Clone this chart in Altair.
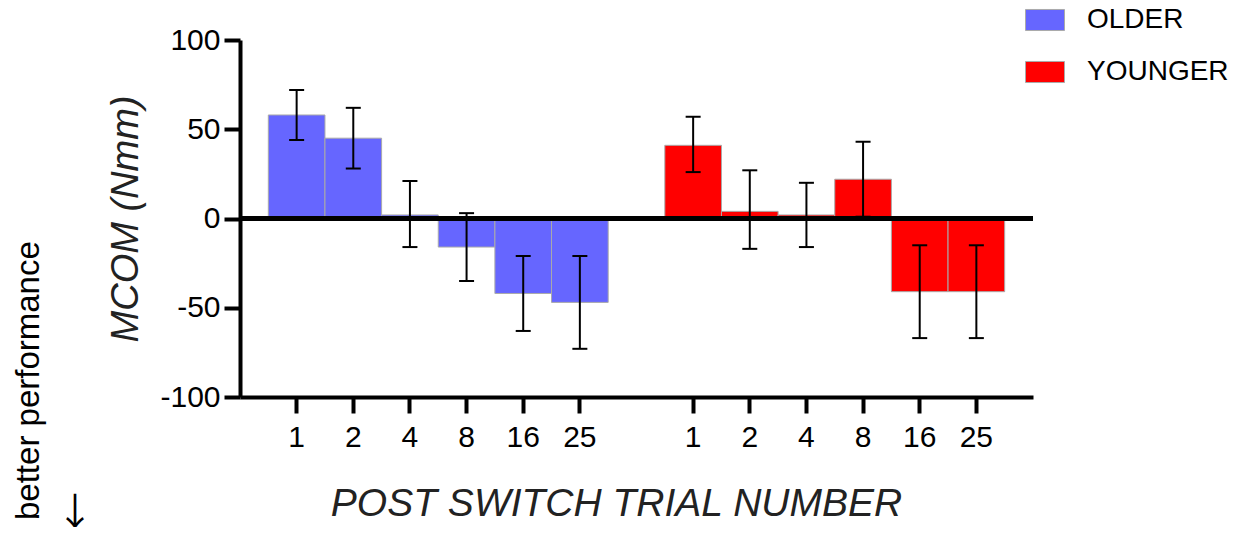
import altair as alt
import pandas as pd

# ---- data ----
trials = [1, 2, 4, 8, 16, 25]
groups = ["OLDER", "YOUNGER"]
older_mean = [58, 45, 2, -16, -42, -47]
older_lo = [44, 28, -16, -35, -63, -73]
older_hi = [72, 62, 21, 3, -21, -21]
younger_mean = [41, 4, 2, 22, -41, -41]
younger_lo = [26, -17, -16, 1, -67, -67]
younger_hi = [57, 27, 20, 43, -15, -15]
colors = ["#6666ff", "#ff0000"]
y_ticks = [-100, -50, 0, 50, 100]
note_text = ["better performance"]
arrow_text = ["\u2193"]

rows = []
for g, means, los, his in [
    (groups[0], older_mean, older_lo, older_hi),
    (groups[1], younger_mean, younger_lo, younger_hi),
]:
    for t, m, lo, hi in zip(trials, means, los, his):
        rows.append(dict(group=g, key=g[0] + str(t), trial=str(t), mean=m, lo=lo, hi=hi))
df = pd.DataFrame(rows)

keys = ["O" + str(t) for t in trials] + ["gap"] + ["Y" + str(t) for t in trials]
tick_keys = [k for k in keys if k != "gap"]

FONT = "Liberation Sans"

x_enc = alt.X(
    "key:N",
    scale=alt.Scale(domain=keys, paddingInner=0, paddingOuter=0.5),
    axis=alt.Axis(
        values=tick_keys,
        labelExpr="substring(datum.label, 1)",
        labelAngle=0,
        labelFontSize=30,
        labelFont=FONT,
        labelColor="black",
        labelPadding=9,
        tickSize=16,
        tickWidth=4,
        tickColor="black",
        domainWidth=4,
        domainColor="black",
        grid=False,
        title="POST SWITCH TRIAL NUMBER",
        titleFont=FONT,
        titleFontSize=39,
        titleFontStyle="italic",
        titleFontWeight="normal",
        titleColor="#222222",
        titleX=376,
        titleY=118,
        titleBaseline="alphabetic",
    ),
)

y_scale = alt.Scale(domain=[-100, 100], nice=False)
y_axis = alt.Axis(
    values=y_ticks,
    labelExpr="'' + datum.value",
    labelFontSize=30,
    labelFont=FONT,
    labelColor="black",
    labelPadding=4,
    tickSize=16,
    tickWidth=4,
    tickColor="black",
    domainWidth=4,
    domainColor="black",
    grid=False,
    title="MCOM (Nmm)",
    titleFont=FONT,
    titleFontSize=38,
    titleFontStyle="italic",
    titleFontWeight="normal",
    titleColor="#222222",
    titlePadding=14,
)

base = alt.Chart(df)

bars = base.mark_bar(stroke="#aaaaaa", strokeWidth=1, opacity=1).encode(
    x=x_enc,
    y=alt.Y("mean:Q", scale=y_scale, axis=y_axis),
    color=alt.Color(
        "group:N",
        scale=alt.Scale(domain=groups, range=colors),
        legend=alt.Legend(
            title=None,
            orient="none",
            legendX=785,
            legendY=-40,
            padding=0,
            symbolType="M-1,-0.54H1V0.54H-1Z",
            symbolSize=1521,
            symbolStrokeColor="#aaaaaa",
            symbolStrokeWidth=1,
            symbolOpacity=1,
            labelFontSize=28,
            labelFont=FONT,
            labelColor="black",
            labelOffset=22,
            labelLimit=300,
            rowPadding=18,
        ),
    ),
)

zero = base.mark_rule(color="black", strokeWidth=4).encode(y=alt.datum(0))

err = base.mark_rule(color="black", strokeWidth=2).encode(
    x="key:N", y="lo:Q", y2="hi:Q"
)
cap_lo = base.mark_tick(color="black", thickness=2, size=15, opacity=1).encode(
    x="key:N", y="lo:Q"
)
cap_hi = base.mark_tick(color="black", thickness=2, size=15, opacity=1).encode(
    x="key:N", y="hi:Q"
)

note = alt.Chart(pd.DataFrame({"t": note_text})).mark_text(
    angle=270, align="left", baseline="middle", fontSize=33, font=FONT, color="black"
).encode(x=alt.value(-211), y=alt.value(480), text="t:N")

arrow = alt.Chart(pd.DataFrame({"t": arrow_text})).mark_text(
    align="center", baseline="middle", fontSize=38, font="Noto Sans CJK SC", color="black"
).encode(x=alt.value(-165), y=alt.value(474), text="t:N")

chart = (
    alt.layer(bars, zero, err, cap_lo, cap_hi, note, arrow)
    .properties(
        width=793,
        height=357,
        autosize=alt.AutoSizeParams(type="none"),
        padding={"left": 232, "top": 32, "right": 201, "bottom": 130},
    )
    .configure_view(stroke=None)
)

chart.save("out.html", embed_options={"renderer": "svg", "actions": False})
